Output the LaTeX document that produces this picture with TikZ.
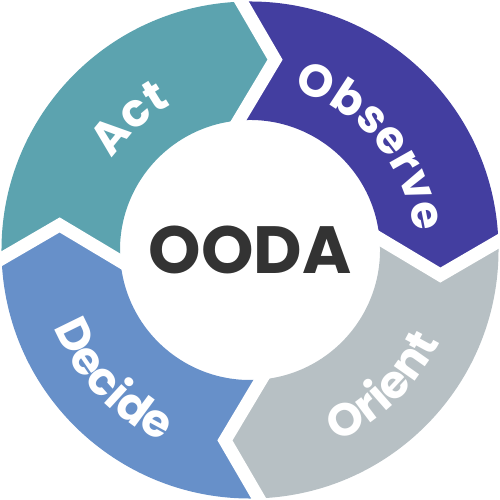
\documentclass[tikz,border=0pt]{standalone}
\usepackage{fontspec}
\setmainfont{Poppins}
\usepackage{tikz}
\usetikzlibrary{
    calc,
    decorations.text
}
\definecolor{actcol}{HTML}{5CA3AF}
\definecolor{obscol}{HTML}{433EA0}
\definecolor{oricol}{HTML}{B7C0C4}
\definecolor{deccol}{HTML}{6790C9}
\definecolor{oodacol}{HTML}{333333}
\newcommand{\lblfont}{\bfseries\fontsize{26pt}{30pt}\selectfont}

\begin{document}
\begin{tikzpicture}[
    looplabel/.style={decorate, decoration={text along path, text align=center,
        text color=white, text={|\lblfont|#1}}},
    gap/.style={white, line width=0.26cm, line join=miter}
]
    \useasboundingbox (-5,-5) rectangle (5,5);

    % ring segments: tail angle / head angle / colour
    \foreach \t/\h/\c in {182/92/actcol, 92/2/obscol, 2/-88/oricol, -88/-178/deccol}
        \fill[\c] (\t:4.97) arc[start angle=\t, end angle=\h, radius=4.97]
            -- (\h-9.5:3.84) -- (\h+3:2.6)
            arc[start angle=\h+3, end angle=\t+3, radius=2.6]
            -- (\t-9.5:3.84) -- cycle;

    % white chevron gaps
    \foreach \b in {92, 2, -88, -178}
        \draw[gap] ($(\b-9.5:3.84)!1.2!(\b:4.97)$) -- (\b-9.5:3.84)
            -- ($(\b-9.5:3.84)!1.3!(\b+3:2.6)$);

    % labels along the ring
    \path[looplabel=Act] (172.5:3.3) arc[start angle=172.5, end angle=92.5, radius=3.3];
    \path[looplabel=Observe] (80.5:3.3) arc[start angle=80.5, end angle=0.5, radius=3.3];
    \path[looplabel=Orient] (-85.7:4.22) arc[start angle=-85.7, end angle=-5.7, radius=4.22];
    \path[looplabel=Decide] (183.5:4.22) arc[start angle=183.5, end angle=263.5, radius=4.22];

    \node[text=oodacol, font=\bfseries\fontsize{38pt}{44pt}\selectfont] (ooda) at (0,0) {OODA};
\end{tikzpicture}
\end{document}
